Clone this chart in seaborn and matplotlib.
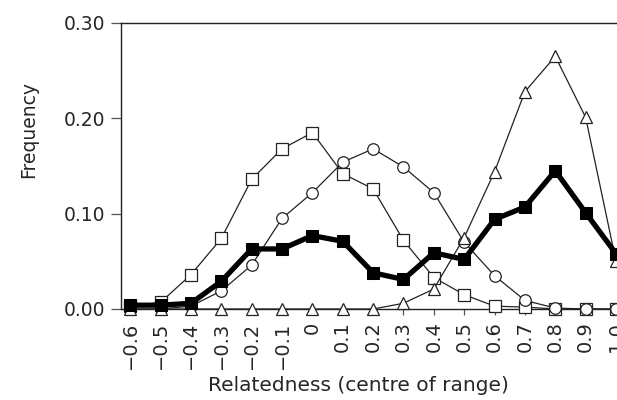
import numpy as np
import pandas as pd
import matplotlib
matplotlib.use("Agg")
import matplotlib.pyplot as plt
import seaborn as sns

# Centros dos intervalos de parentesco
relatedness = [-0.6, -0.5, -0.4, -0.3, -0.2, -0.1, 0.0, 0.1, 0.2, 0.3,
               0.4, 0.5, 0.6, 0.7, 0.8, 0.9, 1.0]
tick_labels = ["\u22120.6", "\u22120.5", "\u22120.4", "\u22120.3", "\u22120.2", "\u22120.1",
               "0", "0.1", "0.2", "0.3", "0.4", "0.5", "0.6", "0.7", "0.8", "0.9", "1.0"]

# Frequencias
open_squares = [0.003, 0.007, 0.036, 0.074, 0.136, 0.168, 0.185, 0.142, 0.126, 0.072,
                0.033, 0.015, 0.003, 0.002, 0.000, 0.000, 0.000]
open_circles = [0.000, 0.000, 0.003, 0.019, 0.046, 0.095, 0.122, 0.154, 0.168, 0.149,
                0.122, 0.070, 0.035, 0.009, 0.001, 0.000, 0.000]
open_triangles = [0.000, 0.000, 0.000, 0.000, 0.000, 0.000, 0.000, 0.000, 0.000, 0.006,
                  0.021, 0.075, 0.144, 0.228, 0.265, 0.201, 0.050]
filled_squares = [0.004, 0.004, 0.006, 0.029, 0.063, 0.063, 0.077, 0.071, 0.038, 0.031,
                  0.059, 0.052, 0.094, 0.107, 0.145, 0.101, 0.058]

df = pd.DataFrame({
    "rel": relatedness,
    "sq": open_squares,
    "ci": open_circles,
    "tri": open_triangles,
    "fill": filled_squares,
})

sns.set_style("ticks")
plt.rcParams["font.family"] = ["DejaVu Sans"]

fig = plt.figure(figsize=(6.17, 4.0), dpi=100)
ax = fig.add_axes([0.1953, 0.2275, 0.8047, 0.715])

# Series abertas (linhas finas)
for col, mk in [("sq", "s"), ("ci", "o"), ("tri", "^")]:
    sns.lineplot(data=df, x="rel", y=col, ax=ax, color="#222222", lw=0.9,
                 marker=mk, markersize=8.3, markerfacecolor="white",
                 markeredgecolor="#222222", markeredgewidth=0.9,
                 clip_on=False, zorder=3)

# Serie preta (grossa) por cima
sns.lineplot(data=df, x="rel", y="fill", ax=ax, color="black", lw=3.8,
             marker="s", markersize=8.5, markerfacecolor="black",
             markeredgecolor="black", clip_on=False, zorder=4)

ax.set_xlim(-0.632, 1.0033)
ax.set_ylim(0, 0.30)
ax.set_xticks(relatedness)
ax.set_xticklabels(tick_labels, rotation=90, fontsize=14)
ax.set_yticks([0.0, 0.1, 0.2, 0.3])
ax.set_yticklabels(["0.00", "0.10", "0.20", "0.30"], fontsize=13.5)
ax.tick_params(axis="y", length=7, width=0.9, color="#555555", pad=4)
ax.tick_params(axis="x", length=4, width=0.9, color="#555555", pad=5)

ax.set_xlabel("Relatedness (centre of range)", fontsize=14.5)
ax.set_ylabel("Frequency", fontsize=13.5)
ax.xaxis.set_label_coords(0.48, -0.266)
ax.yaxis.set_label_coords(-0.186, 0.626)
ax.xaxis.label.set_va("center")
ax.yaxis.label.set_va("center")

for s in ["left", "bottom", "top"]:
    ax.spines[s].set_linewidth(1.0)
    ax.spines[s].set_color("#222222")
ax.spines["right"].set_visible(False)

plt.savefig("out.png", dpi=100)
